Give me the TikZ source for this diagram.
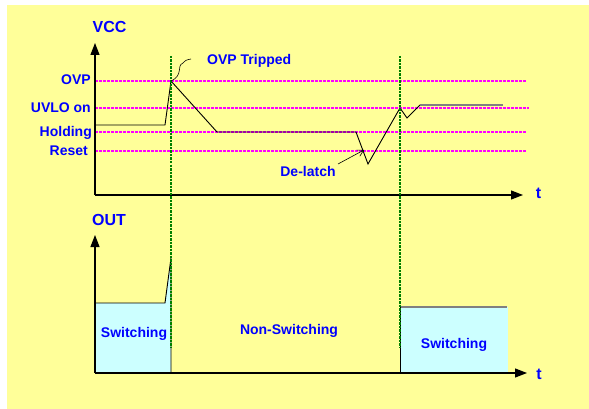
\documentclass[tikz,border=0pt]{standalone}
\usepackage{fontspec}
\setmainfont{Liberation Sans}
\usetikzlibrary{arrows.meta}
\definecolor{bgyellow}{RGB}{255,255,153}
\definecolor{boxcyan}{RGB}{204,255,255}
\definecolor{lvlpink}{RGB}{255,0,255}
\definecolor{mrkgreen}{RGB}{0,128,0}
\definecolor{txtblue}{RGB}{0,0,255}
\begin{document}
\begin{tikzpicture}[x=1pt,y=-1pt,
	lbl/.style={text=txtblue,font=\fontsize{14}{16}\selectfont\bfseries,inner sep=0pt},
	axlbl/.style={text=txtblue,font=\fontsize{16}{18}\selectfont\bfseries,inner sep=0pt},
	axis/.style={line width=1.2pt,-{Triangle[length=12pt,width=9pt]}},
	level/.style={lvlpink,line width=2.2pt,dash pattern=on 3pt off 1pt},
	marker/.style={mrkgreen,line width=2.2pt,dash pattern=on 2.5pt off 1pt}]
		\useasboundingbox (0,0) rectangle (589,409);
		\fill[white] (0,0) rectangle (589,409);
		\fill[bgyellow] (7,5) rectangle (589,409);
		% switching blocks
		\fill[boxcyan] (95,303)--(165,303)--(171,258)--(171,373)--(95,373)--cycle;
		\fill[boxcyan] (400,307) rectangle (508,373);
		% levels
		\draw[level] (95,81)--(527,81);
		\draw[level] (95,108)--(529,108);
		\draw[level] (95,132)--(527,132);
		\draw[level] (95,151)--(527,151);
		\node[lbl,anchor=base east] (ovp) at (91,85) {OVP};
		\node[lbl,anchor=base east] (uvlo) at (91,112.5) {UVLO on};
		\node[lbl,anchor=base east] (hold) at (92,136.5) {Holding};
		\node[lbl,anchor=base east] (reset) at (88,155.5) {Reset};
		% axes
		\draw[axis] (95,195)--(95,43);
		\draw[axis] (95,195)--(523,195);
		\draw[axis] (95,373)--(95,235);
		\draw[axis] (95,373)--(527,373);
		\node[axlbl,anchor=base] (vcc) at (109.5,32.5) {VCC};
		\node[axlbl,anchor=base] (out) at (109,225) {OUT};
		\node[axlbl,anchor=base] (t1) at (538.5,198) {t};
		\node[axlbl,anchor=base] (t2) at (539,379) {t};
		% VCC trace
		\draw[line width=0.9pt] (95,125)--(165,125)--(171,81)--(217,132)--(356,132)--(368,164)--(400,108)--(407,118)--(420,105);
		\draw[gray,line width=1.3pt] (420,105)--(503,105);
		% OUT trace
		\draw[line width=0.9pt] (95,303)--(165,303)--(171,258)--(171,373);
		\draw[gray,line width=1.3pt] (400,307)--(507,307);
		\draw[line width=0.9pt] (400,307)--(400,373);
		% markers
		\draw[marker] (171,56)--(171,347);
		\draw[marker] (400,56)--(400,348);
		% notes
		\draw[line width=0.6pt] (171,81) .. controls (184,75) and (176,66) .. (183,63) .. controls (186,60) .. (191,59);
		\node[lbl,anchor=base west] (trip) at (207,65) {OVP Tripped};
		\node[lbl,anchor=base] (dlatch) at (308,176) {De-latch};
		\draw[line width=0.6pt,-{Straight Barb[length=6pt,width=7pt]}] (338,164)--(364,150);
		\node[lbl,anchor=base] (sw1) at (134,337) {Switching};
		\node[lbl,anchor=base] (nsw) at (289,334) {Non-Switching};
		\node[lbl,anchor=base] (sw2) at (454,348) {Switching};
	\end{tikzpicture}
\end{document}
